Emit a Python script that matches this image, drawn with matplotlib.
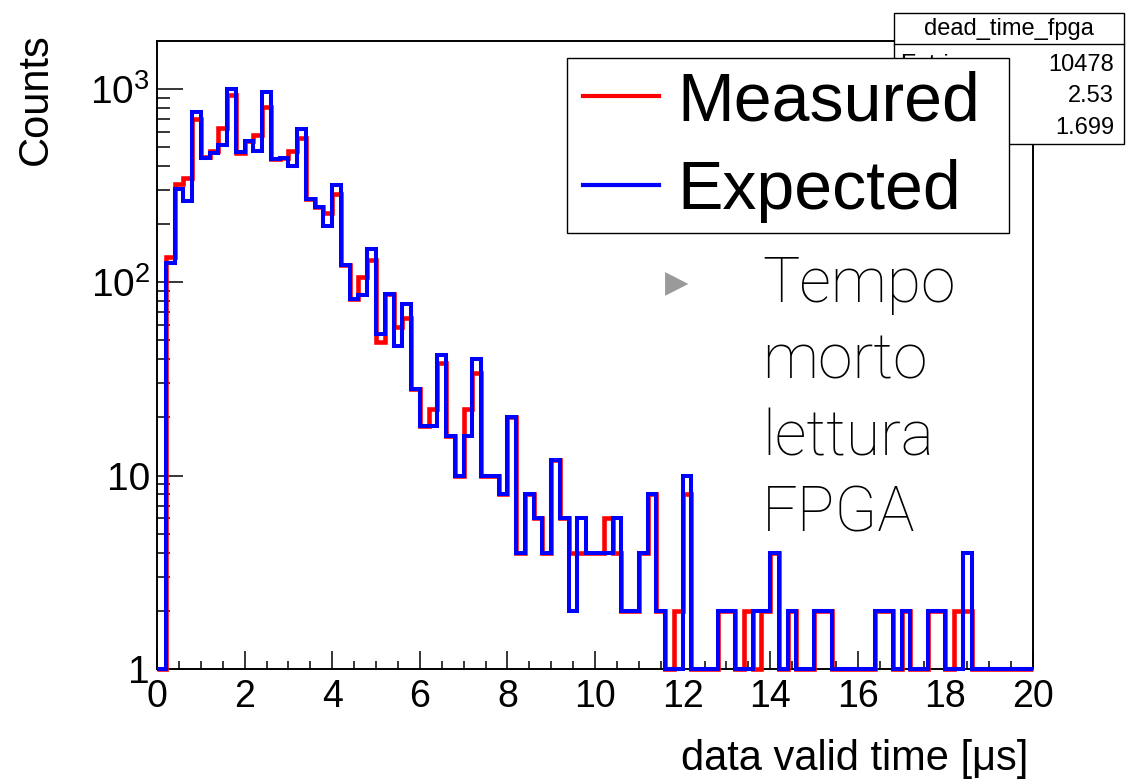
import numpy as np
import matplotlib
matplotlib.use("Agg")
import matplotlib.pyplot as plt
from matplotlib.patches import Rectangle
from matplotlib.lines import Line2D
from matplotlib.ticker import FixedLocator, FixedFormatter, MultipleLocator, NullFormatter

# ---------------- data ----------------
x_min, x_max, n_bins = 0.0, 20.0, 100

measured = [0, 135, 320, 345, 700, 445, 475, 625, 925, 465,
            535, 578, 808, 432, 437, 474, 559, 268, 246, 227,
            287, 123, 82, 106, 131, 49, 87, 59, 65, 28,
            18, 22, 38, 16, 10, 22, 34, 10, 10, 8,
            20, 4, 8, 6, 4, 12, 6, 4, 4, 4,
            4, 6, 4, 2, 2, 4, 8, 2, 0, 2,
            8, 0, 0, 0, 2, 2, 0, 2, 0, 2,
            4, 0, 2, 0, 0, 2, 2, 0, 0, 0,
            0, 0, 2, 2, 0, 2, 0, 0, 2, 2,
            0, 2, 2, 0, 0, 0, 0, 0, 0, 0]

expected = [0, 125, 304, 264, 760, 440, 464, 513, 1000, 470,
            535, 474, 966, 432, 437, 401, 620, 268, 246, 195,
            318, 123, 82, 86, 149, 54, 87, 47, 77, 28,
            18, 18, 42, 16, 10, 16, 40, 10, 10, 8,
            20, 4, 8, 6, 4, 12, 6, 2, 6, 4,
            4, 4, 6, 2, 2, 4, 8, 2, 0, 0,
            10, 0, 0, 0, 2, 2, 0, 0, 2, 2,
            4, 0, 2, 0, 0, 2, 2, 0, 0, 0,
            0, 0, 2, 2, 0, 2, 0, 0, 2, 2,
            0, 0, 4, 0, 0, 0, 0, 0, 0, 0]

x_ticks = [0, 2, 4, 6, 8, 10, 12, 14, 16, 18, 20]
x_tick_labels = ["0", "2", "4", "6", "8", "10", "12", "14", "16", "18", "20"]
y_ticks = [1, 10, 100, 1000]
y_tick_labels = ["1", "10", r"$10^{2}$", r"$10^{3}$"]
y_min, y_max = 1.0, 10 ** 3.247

legend_labels = ["Measured", "Expected"]
series_colors = ["#ff0000", "#0000ff"]
stats_title = "dead_time_fpga"
stats_names = ["Entries", "Mean", "RMS"]
stats_values = ["10478", "2.53", "1.699"]
note_lines = ["Tempo", "morto", "lettura", "FPGA"]
x_label = "data valid time [\u03bcs]"
y_label = "Counts"

# ---------------- style ----------------
W, H = 1127, 781
plt.rcParams["font.family"] = ["Liberation Sans", "DejaVu Sans"]
plt.rcParams["mathtext.fontset"] = "custom"
plt.rcParams["mathtext.rm"] = "Liberation Sans"
plt.rcParams["mathtext.it"] = "Liberation Sans"


def fx(px):
    return px / W


def fy(py):
    return 1 - py / H


fig = plt.figure(figsize=(W / 100, H / 100), dpi=100)
ax = fig.add_axes([fx(157), fy(669), fx(1033) - fx(157), fy(41) - fy(669)])

edges = np.linspace(x_min, x_max, n_bins + 1)
handles = []
for vals, col, lw, lab in zip([measured, expected], series_colors, [3.3, 2.9], legend_labels):
    v = np.asarray(vals, dtype=float)
    v = np.where(v > 0, v, y_min)
    ax.stairs(v, edges, baseline=None, color=col, linewidth=lw, clip_on=False, zorder=3)
    handles.append(Line2D([], [], color=col, linewidth=3))

ax.set_yscale("log")
ax.set_xlim(x_min, x_max)
ax.set_ylim(y_min, y_max)

ax.xaxis.set_major_locator(FixedLocator(x_ticks))
ax.xaxis.set_major_formatter(FixedFormatter(x_tick_labels))
ax.xaxis.set_minor_locator(MultipleLocator(0.5))
ax.yaxis.set_major_locator(FixedLocator(y_ticks))
ax.yaxis.set_major_formatter(FixedFormatter(y_tick_labels))
minor_y = [m * 10 ** d for d in range(0, 4) for m in range(2, 10)]
ax.yaxis.set_minor_locator(FixedLocator(minor_y))
ax.yaxis.set_minor_formatter(NullFormatter())

ax.tick_params(axis="both", which="both", direction="in", top=False, right=False,
               width=1.1, color="black")
ax.tick_params(axis="x", which="major", length=13, labelsize=27, pad=7)
ax.tick_params(axis="x", which="minor", length=5.8)
ax.tick_params(axis="y", which="major", length=18.7, labelsize=28, pad=5)
ax.tick_params(axis="y", which="minor", length=9.4)
for s in ax.spines.values():
    s.set_linewidth(1.4)

fig.text(fx(1028), fy(770), x_label, ha="right", va="baseline", fontsize=30)
fig.text(fx(36), fy(33), y_label, rotation=90, ha="center", va="top", fontsize=30)

# ---------------- stats box ----------------
bx0, by0, bx1, by1 = 894, 13, 1124, 144
ax.add_patch(Rectangle((fx(bx0), fy(by1)), fx(bx1) - fx(bx0), fy(by0) - fy(by1),
                       transform=fig.transFigure, facecolor="white", edgecolor="black",
                       linewidth=1.0, clip_on=False, zorder=4))
ax.add_line(Line2D([fx(bx0), fx(bx1)], [fy(44), fy(44)], transform=fig.transFigure,
                   color="black", linewidth=1.0, clip_on=False, zorder=4.1))
ax.text(fx((bx0 + bx1) / 2), fy(29), stats_title, transform=fig.transFigure,
        ha="center", va="center", fontsize=17, zorder=4.2, clip_on=False)
for i, (n, v) in enumerate(zip(stats_names, stats_values)):
    yy = fy(65 + i * 31.5)
    ax.text(fx(900), yy, n, transform=fig.transFigure, ha="left", va="center",
            fontsize=17, zorder=4.2, clip_on=False)
    ax.text(fx(1114), yy, v, transform=fig.transFigure, ha="right", va="center",
            fontsize=17, zorder=4.2, clip_on=False)

# ---------------- legend ----------------
lx0, ly0, lx1, ly1 = 567, 58, 1009, 233
ax.add_patch(Rectangle((fx(lx0), fy(ly1)), fx(lx1) - fx(lx0), fy(ly0) - fy(ly1),
                       transform=fig.transFigure, facecolor="white", edgecolor="black",
                       linewidth=1.0, clip_on=False, zorder=4.5))
leg = ax.legend(handles, legend_labels, loc="center left",
                bbox_to_anchor=(fx(lx0), fy(ly1) - 0.001, fx(lx1) - fx(lx0), fy(ly0) - fy(ly1)),
                bbox_transform=fig.transFigure, mode="expand", borderaxespad=0,
                frameon=False, fontsize=49,
                handlelength=1.12, handletextpad=0.27, labelspacing=0.36, borderpad=0.23)
leg.set_zorder(5)

# ---------------- note text ----------------
fig.text(fx(677), fy(284), "\u25b6", color="#9a9a9a", fontsize=22, ha="center", va="center",
         family="DejaVu Sans")
for i, line in enumerate(note_lines):
    fig.text(fx(762), fy(301.7 + i * 76.7), line, ha="left", va="baseline",
             fontsize=45, family=["Roboto", "Liberation Sans"], fontweight="light")

fig.savefig("out.png", dpi=100)
